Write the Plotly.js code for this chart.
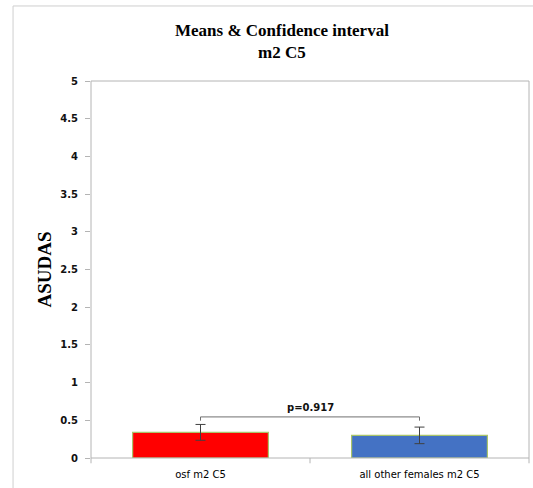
<!DOCTYPE html>
<html><head><meta charset="utf-8">
<script src="https://cdn.plot.ly/plotly-3.0.1.min.js"></script>
<style>body{margin:0;background:#fff}#c{width:533px;height:488px}</style>
</head><body><div id="c"></div>
<script>
const categories = ["osf m2 C5", "all other females m2 C5"];
const means = [0.34, 0.30];
const errors = [0.105, 0.11];
const barColors = ["#ff0000", "#4472c4"];
const pText = "p=0.917";
const yTicks = [0, 0.5, 1, 1.5, 2, 2.5, 3, 3.5, 4, 4.5, 5];

const maxTop = Math.max(...means.map((m, i) => m + errors[i]));
const bracketY = maxTop + 0.1;
const bracketDrop = 0.05;

const trace = {
  type: "bar",
  x: categories,
  y: means,
  width: 0.62,
  marker: {color: barColors, line: {color: "#a9c46a", width: 1.2}},
  error_y: {type: "data", array: errors, visible: true, color: "#404040", thickness: 1, width: 5},
  hoverinfo: "none"
};

const gray = "#b4b4b4";
const layout = {
  width: 533, height: 488,
  margin: {l: 91, r: 4, t: 81, b: 30},
  paper_bgcolor: "#fff", plot_bgcolor: "#fff",
  showlegend: false,
  title: {
    text: "<b>Means & Confidence interval<br>m2 C5</b>",
    font: {family: "Liberation Serif", size: 17, color: "#000"},
    x: 0.529, xanchor: "center", y: 0.926, yanchor: "middle"
  },
  xaxis: {
    type: "category", range: [-0.5, 1.5],
    showline: false, showgrid: false, zeroline: false,
    ticks: "", tickfont: {family: "DejaVu Sans", size: 10, color: "#000"},
    ticklabelstandoff: 9
  },
  yaxis: {
    range: [0, 5], tickvals: yTicks, ticktext: yTicks.map(v => "<b>" + v + "</b>"),
    showline: false, showgrid: false, zeroline: false,
    ticks: "outside", ticklen: 5, tickcolor: gray,
    tickfont: {family: "DejaVu Sans", size: 10, color: "#111"},
    ticklabelstandoff: 5,
    title: {text: "<b>ASUDAS</b>", font: {family: "Liberation Serif", size: 19, color: "#000"}, standoff: 3}
  },
  shapes: [
    {type: "rect", xref: "paper", yref: "paper", x0: 0, x1: 1, y0: 0, y1: 1, line: {color: gray, width: 1}},
    {type: "line", xref: "paper", yref: "paper", x0: 0.5, x1: 0.5, y0: 0, y1: -0.014, line: {color: gray, width: 1}},
    {type: "line", xref: "paper", yref: "paper", x0: 0, x1: 0, y0: 0, y1: -0.014, line: {color: gray, width: 1}},
    {type: "line", xref: "paper", yref: "paper", x0: 1, x1: 1, y0: 0, y1: -0.014, line: {color: gray, width: 1}},
    {type: "line", xref: "paper", yref: "paper", x0: -0.178, x1: -0.178, y0: -0.1, y1: 1.199, line: {color: "#cfcfcf", width: 1}},
    {type: "line", xref: "paper", yref: "paper", x0: -0.178, x1: 1.2, y0: 1.199, y1: 1.199, line: {color: "#cfcfcf", width: 1}},
    {type: "line", xref: "x", yref: "y", x0: 0, x1: 1, y0: bracketY, y1: bracketY, line: {color: "#707070", width: 1}},
    {type: "line", xref: "x", yref: "y", x0: 0, x1: 0, y0: bracketY, y1: bracketY - bracketDrop, line: {color: "#707070", width: 1}},
    {type: "line", xref: "x", yref: "y", x0: 1, x1: 1, y0: bracketY, y1: bracketY - bracketDrop, line: {color: "#707070", width: 1}}
  ],
  annotations: [
    {xref: "paper", yref: "y", x: 0.5, y: bracketY, yanchor: "bottom", yshift: 2, showarrow: false,
     text: "<b>" + pText + "</b>", font: {family: "DejaVu Sans", size: 10, color: "#111"}}
  ]
};

Plotly.newPlot("c", [trace], layout, {displayModeBar: false, staticPlot: true});
</script>
</body></html>
